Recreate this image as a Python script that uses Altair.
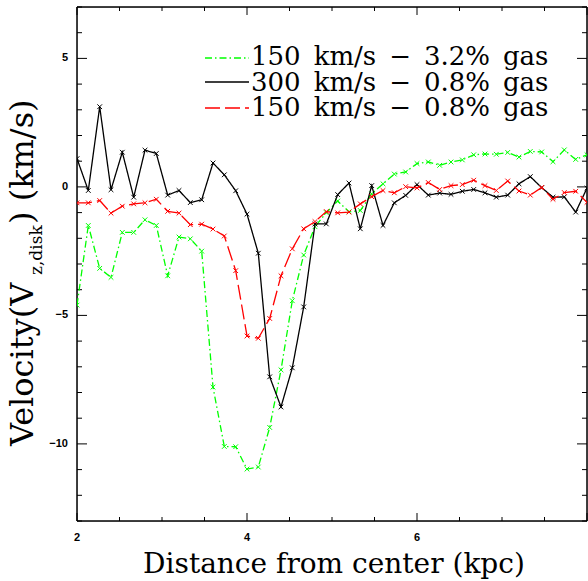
import altair as alt
import pandas as pd

# Distance from center (kpc)
radius = [2.0, 2.133, 2.267, 2.4, 2.533, 2.667, 2.8, 2.933, 3.067, 3.2,
          3.333, 3.467, 3.6, 3.733, 3.867, 4.0, 4.133, 4.267, 4.4, 4.533,
          4.667, 4.8, 4.933, 5.067, 5.2, 5.333, 5.467, 5.6, 5.733, 5.867,
          6.0, 6.133, 6.267, 6.4, 6.533, 6.667, 6.8, 6.933, 7.067, 7.2,
          7.333, 7.467, 7.6, 7.733, 7.867, 8.0]

v_150_32 = [-4.60, -1.50, -3.17, -3.52, -1.77, -1.77, -1.28, -1.50, -3.46, -1.95,
            -2.02, -2.50, -7.79, -10.10, -10.11, -10.98, -10.90, -9.36, -7.12, -4.43,
            -2.65, -1.55, -1.00, -0.55, -0.97, -0.92, -0.27, 0.12, 0.50, 0.58,
            0.91, 0.97, 0.84, 0.97, 1.05, 1.25, 1.28, 1.27, 1.34, 1.16,
            1.38, 1.36, 0.98, 1.44, 1.07, 1.25]

v_300_08 = [1.10, -0.14, 3.12, -0.11, 1.35, -0.40, 1.43, 1.30, -0.32, -0.14,
            -0.61, -0.50, 0.93, 0.47, -0.15, -1.06, -2.58, -7.39, -8.56, -7.04,
            -4.67, -1.44, -1.44, -0.30, 0.15, -1.63, 0.05, -1.50, -0.62, -0.33,
            0.09, -0.32, -0.24, -0.29, -0.17, -0.10, -0.23, -0.40, -0.32, 0.12,
            0.40, -0.03, -0.40, -0.39, -0.98, -0.05]

v_150_08 = [-0.62, -0.62, -0.53, -1.02, -0.75, -0.66, -0.62, -0.48, -0.95, -1.02,
            -1.47, -1.45, -1.64, -1.91, -3.26, -5.80, -5.89, -5.12, -3.46, -2.41,
            -1.63, -1.35, -0.96, -1.01, -0.98, -0.66, -0.38, -0.14, -0.23, 0.01,
            -0.04, 0.17, -0.10, 0.05, 0.09, 0.26, 0.05, -0.14, 0.23, -0.16,
            -0.32, -0.02, -0.48, -0.22, -0.17, -0.60]

series_labels = ["150\u2002km/s\u2002\u2212\u20023.2%\u2002gas",
                 "300\u2002km/s\u2002\u2212\u20020.8%\u2002gas",
                 "150\u2002km/s\u2002\u2212\u20020.8%\u2002gas"]
series_colors = ["#00ff00", "#000000", "#ff0000"]
series_dashes = [[7, 3, 1.5, 3], [1, 0], [15, 5]]

x_major = [2, 4, 6, 8]
x_label_values = [2, 4, 6]
x_labels = ["2", "4", "6"]
x_minor = [2.5, 3, 3.5, 4.5, 5, 5.5, 6.5, 7, 7.5]
y_major = [-10, -5, 0, 5]
y_labels = ["\u221210", "\u22125", "0", "5"]
y_minor = [-13, -12, -11, -9, -8, -7, -6, -4, -3, -2, -1, 1, 2, 3, 4, 6, 7]

W, H = 510, 514
xs = alt.Scale(domain=[2, 8], nice=False, zero=False)
ys = alt.Scale(domain=[-13, 7], nice=False, zero=False)

X_PATH = "M-1,-1L1,1M-1,1L1,-1"

series_values = [v_150_32, v_300_08, v_150_08]
layers = []
one = pd.DataFrame({"k": [0]})

# frame
frame_specs = [
    dict(x=alt.value(0), x2=alt.value(0), y=alt.value(0), y2=alt.value(H)),
    dict(x=alt.value(W), x2=alt.value(W), y=alt.value(0), y2=alt.value(H)),
    dict(x=alt.value(0), x2=alt.value(W), y=alt.value(0), y2=alt.value(0)),
    dict(x=alt.value(0), x2=alt.value(W), y=alt.value(H), y2=alt.value(H)),
]
for fs in frame_specs:
    layers.append(alt.Chart(one).mark_rule(color="black", strokeWidth=1.5).encode(**fs))


def xticks(vals, length):
    d = pd.DataFrame({"x": vals})
    bot = alt.Chart(d).mark_rule(color="black", strokeWidth=1).encode(
        x=alt.X("x:Q", scale=xs, axis=None), y=alt.value(H), y2=alt.value(H - length))
    top = alt.Chart(d).mark_rule(color="black", strokeWidth=1).encode(
        x=alt.X("x:Q", scale=xs, axis=None), y=alt.value(0), y2=alt.value(length))
    return [bot, top]


def yticks(vals, length):
    d = pd.DataFrame({"y": vals})
    left = alt.Chart(d).mark_rule(color="black", strokeWidth=1).encode(
        y=alt.Y("y:Q", scale=ys, axis=None), x=alt.value(0), x2=alt.value(length))
    right = alt.Chart(d).mark_rule(color="black", strokeWidth=1).encode(
        y=alt.Y("y:Q", scale=ys, axis=None), x=alt.value(W), x2=alt.value(W - length))
    return [left, right]


layers += xticks(x_major, 8) + xticks(x_minor, 4)
layers += yticks(y_major, 10) + yticks(y_minor, 5)

# tick labels
xl = pd.DataFrame({"x": x_label_values, "lab": x_labels})
layers.append(alt.Chart(xl).mark_text(font="Liberation Sans", fontSize=11, fontWeight="bold",
                                      align="center", baseline="alphabetic", color="black").encode(
    x=alt.X("x:Q", scale=xs, axis=None), y=alt.value(H + 20), text="lab:N"))
yl = pd.DataFrame({"y": y_major, "lab": y_labels})
layers.append(alt.Chart(yl).mark_text(font="Liberation Sans", fontSize=11, fontWeight="bold",
                                      align="right", baseline="middle", color="black").encode(
    y=alt.Y("y:Q", scale=ys, axis=None), x=alt.value(-9), text="lab:N"))

for lab, col, dash, vals in zip(series_labels, series_colors, series_dashes, series_values):
    df = pd.DataFrame({"r": radius, "v": vals})
    line = alt.Chart(df).mark_line(color=col, strokeWidth=1.3, strokeDash=dash, clip=True).encode(
        x=alt.X("r:Q", scale=xs, axis=None), y=alt.Y("v:Q", scale=ys, axis=None))
    pts = alt.Chart(df).mark_point(shape=X_PATH, size=22, filled=False, color=col,
                                   strokeWidth=1, clip=True, opacity=1).encode(
        x=alt.X("r:Q", scale=xs, axis=None), y=alt.Y("v:Q", scale=ys, axis=None))
    layers += [line, pts]

# legend
leg_y = [51, 75, 101]
txt_y = [58, 83.5, 109]
for lab, col, dash, ly, ty in zip(series_labels, series_colors, series_dashes, leg_y, txt_y):
    ld = pd.DataFrame({"label": [lab]})
    layers.append(alt.Chart(ld).mark_rule(color=col, strokeWidth=1.3, strokeDash=dash).encode(
        x=alt.value(128), x2=alt.value(172), y=alt.value(ly)))
    layers.append(alt.Chart(ld).mark_text(font="DejaVu Serif", fontSize=26, align="left",
                                          baseline="alphabetic", color="black").encode(
        x=alt.value(174), y=alt.value(ty), text="label:N"))

# titles
xt = pd.DataFrame({"t": ["Distance from center (kpc)"]})
layers.append(alt.Chart(xt).mark_text(font="DejaVu Serif", fontSize=28, align="center",
                                      baseline="alphabetic", color="black").encode(
    x=alt.value(257), y=alt.value(566), text="t:N"))

yt_main = pd.DataFrame({"t": ["Velocity(V"]})
yt_sub = pd.DataFrame({"t": ["z,disk"]})
yt_end = pd.DataFrame({"t": [") (km/s)"]})
layers.append(alt.Chart(yt_main).mark_text(font="DejaVu Serif", fontSize=32, align="left",
                                           baseline="alphabetic", angle=270, color="black").encode(
    x=alt.value(-44), y=alt.value(439), text="t:N"))
layers.append(alt.Chart(yt_sub).mark_text(font="DejaVu Serif", fontSize=17, align="left",
                                          baseline="alphabetic", angle=270, color="black").encode(
    x=alt.value(-35), y=alt.value(268), text="t:N"))
layers.append(alt.Chart(yt_end).mark_text(font="DejaVu Serif", fontSize=32, align="left",
                                          baseline="alphabetic", angle=270, color="black").encode(
    x=alt.value(-44), y=alt.value(217), text="t:N"))

chart = alt.layer(*layers).properties(
    width=W, height=H,
    autosize=alt.AutoSizeParams(type="none"),
    padding={"left": 77, "top": 7, "right": 1, "bottom": 60},
).configure_view(stroke=None).configure(background="white")

chart.save("out.html", embed_options={"renderer": "svg", "actions": False})
